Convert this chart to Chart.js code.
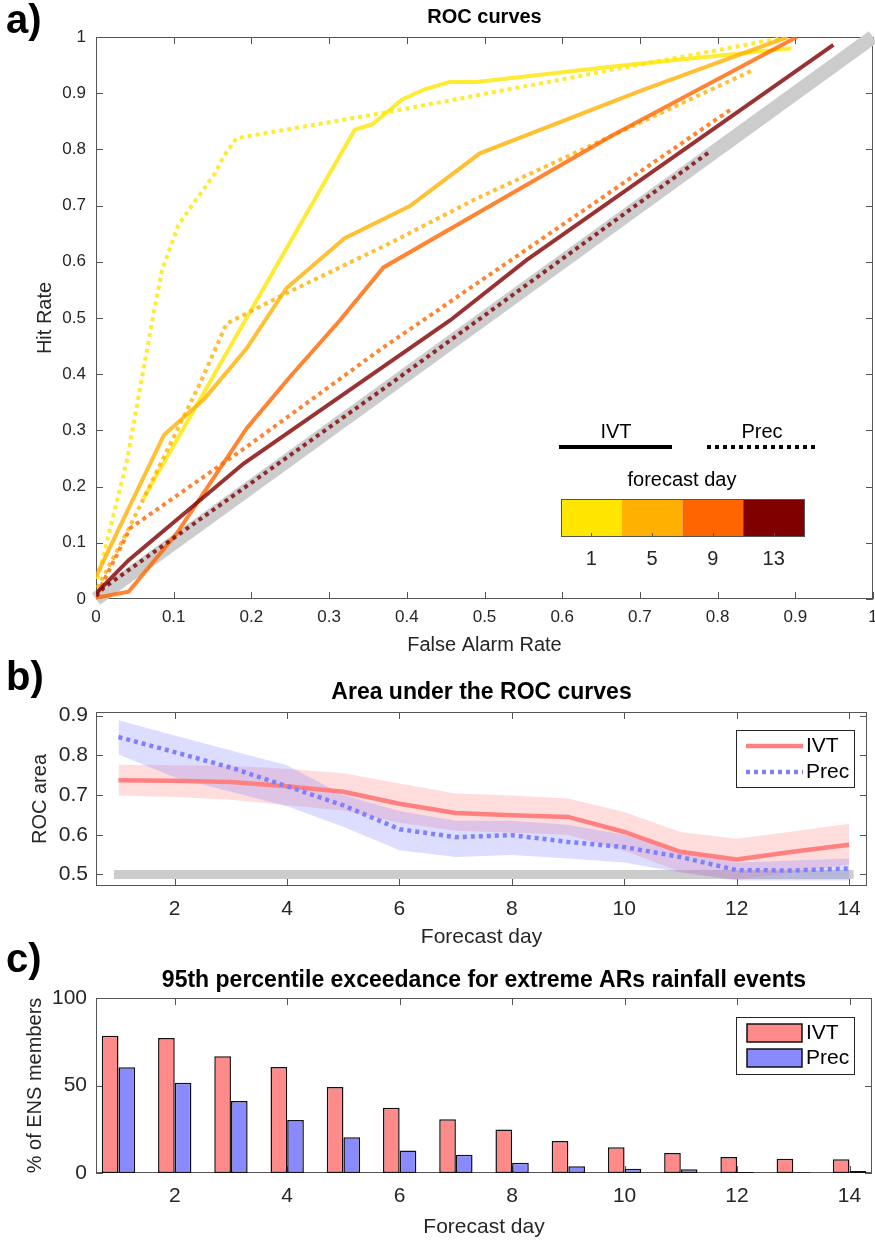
<!DOCTYPE html>
<html>
<head>
<meta charset="utf-8">
<script src="https://cdn.jsdelivr.net/npm/chart.js"></script>
<style>
  body { margin:0; background:#fff; width:875px; height:1241px; position:relative; overflow:hidden; }
  canvas { position:absolute; left:0; }
</style>
</head>
<body>
<canvas id="chartRoc" width="875" height="665" style="top:0px"></canvas>
<canvas id="chartAuc" width="875" height="300" style="top:650px"></canvas>
<canvas id="chartExceed" width="875" height="306" style="top:935px"></canvas>
<script>
// ---- panel a : ROC curves (false alarm rate -> hit rate), one IVT + one Prec curve per forecast day
var forecastDays = [1, 5, 9, 13];
var dayColors = ['255,230,0', '255,176,0', '255,102,0', '128,0,0'];

var ivtFar1 = [0.061, 0.2, 0.333, 0.356, 0.378, 0.393, 0.423, 0.455, 0.49, 0.674, 0.895];
var ivtHit1 = [0.179, 0.515, 0.835, 0.845, 0.87, 0.888, 0.907, 0.92, 0.92, 0.949, 0.98];
var precFar1 = [0.002, 0.04, 0.073, 0.085, 0.106, 0.13, 0.153, 0.164, 0.181, 0.37, 0.89];
var precHit1 = [0.035, 0.247, 0.5, 0.585, 0.665, 0.713, 0.757, 0.787, 0.82, 0.865, 1.0];

var ivtFar5 = [0, 0.044, 0.0875, 0.14, 0.194, 0.245, 0.32, 0.404, 0.494, 0.704, 0.89];
var ivtHit5 = [0.04, 0.167, 0.292, 0.357, 0.446, 0.553, 0.642, 0.699, 0.793, 0.906, 1.0];
var precFar5 = [0.002, 0.044, 0.09, 0.134, 0.168, 0.245, 0.378, 0.486, 0.844];
var precHit5 = [0.02, 0.13, 0.26, 0.384, 0.49, 0.544, 0.633, 0.71, 0.94];

var ivtFar9 = [0, 0.042, 0.104, 0.194, 0.25, 0.314, 0.37, 0.666, 0.902];
var ivtHit9 = [0.002, 0.013, 0.117, 0.304, 0.396, 0.496, 0.59, 0.826, 1.0];
var precFar9 = [0.002, 0.044, 0.194, 0.365, 0.816];
var precHit9 = [0.01, 0.126, 0.271, 0.443, 0.87];

var ivtFar13 = [0, 0.042, 0.19, 0.456, 0.554, 0.949];
var ivtHit13 = [0.01, 0.069, 0.241, 0.496, 0.603, 0.986];
var precFar13 = [0, 0.01, 0.374, 0.79];
var precHit13 = [0.005, 0.02, 0.378, 0.796];

var rocTicks = [0, 0.1, 0.2, 0.3, 0.4, 0.5, 0.6, 0.7, 0.8, 0.9, 1];

// ---- panel b : area under the ROC curves
var leadDays = [1, 2, 3, 4, 5, 6, 7, 8, 9, 10, 11, 12, 13, 14];
var ivtAuc   = [0.737, 0.736, 0.733, 0.722, 0.708, 0.678, 0.655, 0.649, 0.645, 0.607, 0.557, 0.538, 0.557, 0.575];
var ivtAucHi = [0.776, 0.775, 0.773, 0.766, 0.755, 0.729, 0.704, 0.699, 0.691, 0.657, 0.607, 0.59, 0.608, 0.628];
var ivtAucLo = [0.699, 0.695, 0.688, 0.674, 0.661, 0.63, 0.61, 0.605, 0.6, 0.56, 0.507, 0.487, 0.505, 0.525];
var precAuc   = [0.846, 0.808, 0.769, 0.722, 0.674, 0.614, 0.594, 0.599, 0.582, 0.569, 0.544, 0.511, 0.51, 0.515];
var precAucHi = [0.888, 0.85, 0.812, 0.775, 0.7, 0.66, 0.635, 0.635, 0.625, 0.6, 0.56, 0.53, 0.535, 0.54];
var precAucLo = [0.802, 0.745, 0.708, 0.672, 0.62, 0.561, 0.544, 0.549, 0.54, 0.53, 0.505, 0.485, 0.485, 0.485];
var aucTicks = [0.5, 0.6, 0.7, 0.8, 0.9];
var dayTicks = [2, 4, 6, 8, 10, 12, 14];

// ---- panel c : % of ENS members above 95th percentile
var ivtExceed  = [78.5, 77.1, 66.7, 60.6, 49.1, 37.3, 30.7, 24.8, 18.3, 14.7, 11.4, 9.1, 8.2, 7.8];
var precExceed = [60.4, 51.6, 41.1, 30.3, 20.4, 12.8, 10.5, 5.9, 3.8, 2.5, 2.1, 0.6, 0.4, 1.1];
var pctTicks = [0, 50, 100];

var FONT = "'Liberation Sans', Arial, Helvetica, sans-serif";
Chart.defaults.font.family = FONT;
Chart.defaults.color = '#262626';
Chart.defaults.animation = false;

function fixX(h){ return function(s){ s.height = h; s.paddingLeft = 0; s.paddingRight = 0; }; }
function fixY(w){ return function(s){ s.width = w; s.paddingTop = 0; s.paddingBottom = 0; }; }
function setTicks(vals){ return function(s){ s.ticks = vals.map(function(v){ return {value:v}; }); }; }
function pts(xs, ys){ return xs.map(function(x, i){ return {x:x, y:ys[i]}; }); }

// matlab style box: frame, inward ticks on 4 sides, bold title and panel letter
var matlabAxes = {
  id: 'matlabAxes',
  beforeDatasetsDraw: function(chart){
    var ctx = chart.ctx, a = chart.chartArea, sx = chart.scales.x, sy = chart.scales.y;
    ctx.save();
    ctx.strokeStyle = '#555'; ctx.lineWidth = 1;
    ctx.strokeRect(Math.round(a.left)+0.5, Math.round(a.top)+0.5, Math.round(a.right-a.left)-1, Math.round(a.bottom-a.top)-1);
    ctx.beginPath();
    sx.ticks.forEach(function(t){
      var p = Math.round(sx.getPixelForValue(t.value)) + 0.5;
      ctx.moveTo(p, a.bottom); ctx.lineTo(p, a.bottom - 7);
      ctx.moveTo(p, a.top); ctx.lineTo(p, a.top + 7);
    });
    sy.ticks.forEach(function(t){
      var p = Math.round(sy.getPixelForValue(t.value)) + 0.5;
      ctx.moveTo(a.left, p); ctx.lineTo(a.left + 7, p);
      ctx.moveTo(a.right, p); ctx.lineTo(a.right - 7, p);
    });
    ctx.stroke();
    ctx.restore();
  },
  afterDraw: function(chart, args, opts){
    var ctx = chart.ctx, a = chart.chartArea;
    ctx.save();
    ctx.fillStyle = '#000';
    ctx.textAlign = 'center'; ctx.textBaseline = 'middle';
    ctx.font = 'bold ' + opts.titleSize + 'px ' + FONT;
    ctx.fillText(opts.title, (a.left + a.right) / 2, opts.titleY);
    ctx.textAlign = 'left'; ctx.textBaseline = 'top';
    ctx.font = 'bold 40px ' + FONT;
    ctx.fillText(opts.letter, 6, opts.letterY);
    ctx.restore();
  }
};

// ---------------- panel a
var rocSets = [];
function addRoc(far, hit, k, dotted){
  rocSets.push({
    data: pts(far, hit), showLine: true, pointRadius: 0, borderWidth: 4,
    borderColor: 'rgba(' + dayColors[k] + ',0.8)',
    borderDash: dotted ? [4, 4] : [], borderCapStyle: 'butt', tension: 0,
    order: 10 - k
  });
}
addRoc(ivtFar1, ivtHit1, 0, false); addRoc(precFar1, precHit1, 0, true);
addRoc(ivtFar5, ivtHit5, 1, false); addRoc(precFar5, precHit5, 1, true);
addRoc(ivtFar9, ivtHit9, 2, false); addRoc(precFar9, precHit9, 2, true);
addRoc(ivtFar13, ivtHit13, 3, false); addRoc(precFar13, precHit13, 3, true);
rocSets.push({
  data: pts([0, 1], [0, 1]), showLine: true, pointRadius: 0, borderWidth: 14,
  borderColor: '#cccccc', borderCapStyle: 'butt', clip: false, order: 50
});

var rocLegend = {
  id: 'rocLegend',
  afterDraw: function(chart){
    var ctx = chart.ctx;
    ctx.save();
    ctx.fillStyle = '#000'; ctx.font = '20px ' + FONT;
    ctx.textAlign = 'center'; ctx.textBaseline = 'middle';
    ctx.fillText('IVT', 616, 432);
    ctx.fillText('Prec', 762, 432);
    ctx.fillText('forecast day', 682, 480);
    ctx.strokeStyle = '#000'; ctx.lineWidth = 4;
    ctx.beginPath(); ctx.moveTo(559, 447); ctx.lineTo(672, 447); ctx.stroke();
    ctx.setLineDash([4, 4]);
    ctx.beginPath(); ctx.moveTo(707, 447); ctx.lineTo(815, 447); ctx.stroke();
    ctx.setLineDash([]);
    var x0 = 561, w = (804 - 561) / forecastDays.length;
    forecastDays.forEach(function(d, i){
      ctx.fillStyle = 'rgb(' + dayColors[i] + ')';
      ctx.fillRect(x0 + i * w, 499, w, 38);
      ctx.fillStyle = '#262626';
      ctx.fillText(String(d), x0 + (i + 0.5) * w, 559);
    });
    ctx.strokeStyle = '#555'; ctx.lineWidth = 1;
    ctx.strokeRect(561.5, 499.5, 243, 37);
    ctx.beginPath();
    forecastDays.forEach(function(d, i){
      var cx = Math.round(x0 + (i + 0.5) * w) + 0.5;
      ctx.moveTo(cx, 537); ctx.lineTo(cx, 533);
    });
    ctx.stroke();
    ctx.restore();
  }
};

new Chart(document.getElementById('chartRoc'), {
  type: 'scatter',
  data: { datasets: rocSets },
  options: {
    responsive: false,
    layout: { padding: { left: 0, right: 2, top: 37, bottom: 0 } },
    plugins: {
      legend: { display: false }, tooltip: { enabled: false },
      matlabAxes: { title: 'ROC curves', titleSize: 20, titleY: 17, letter: 'a)', letterY: 2 }
    },
    scales: {
      x: {
        type: 'linear', min: 0, max: 1,
        afterBuildTicks: setTicks(rocTicks), afterFit: fixX(66),
        grid: { display: false, drawTicks: false }, border: { display: false },
        ticks: { padding: 8, font: { size: 17 }, maxRotation: 0, autoSkip: false,
          callback: function(v){ return String(Math.round(v * 10) / 10); } },
        title: { display: true, text: 'False Alarm Rate', font: { size: 20 }, padding: { top: 0, bottom: 8 } }
      },
      y: {
        type: 'linear', min: 0, max: 1,
        afterBuildTicks: setTicks(rocTicks), afterFit: fixY(96),
        grid: { display: false, drawTicks: false }, border: { display: false },
        ticks: { padding: 10, font: { size: 17 }, autoSkip: false,
          callback: function(v){ return String(Math.round(v * 10) / 10); } },
        title: { display: true, text: 'Hit Rate', font: { size: 20 }, padding: { top: 33, bottom: 0 } }
      }
    }
  },
  plugins: [matlabAxes, rocLegend]
});

// ---------------- panel b
var aucLegend = {
  id: 'aucLegend',
  afterDraw: function(chart){
    var ctx = chart.ctx;
    ctx.save();
    ctx.fillStyle = '#fff'; ctx.fillRect(736, 80, 118, 57);
    ctx.strokeStyle = '#262626'; ctx.lineWidth = 1; ctx.strokeRect(736.5, 80.5, 118, 57);
    ctx.lineWidth = 4.5;
    ctx.strokeStyle = '#ff8080';
    ctx.beginPath(); ctx.moveTo(746, 96); ctx.lineTo(803, 96); ctx.stroke();
    ctx.strokeStyle = '#8080ff'; ctx.setLineDash([4, 4]);
    ctx.beginPath(); ctx.moveTo(746, 122); ctx.lineTo(803, 122); ctx.stroke();
    ctx.setLineDash([]);
    ctx.fillStyle = '#000'; ctx.font = '21px ' + FONT;
    ctx.textAlign = 'left'; ctx.textBaseline = 'middle';
    ctx.fillText('IVT', 806, 96);
    ctx.fillText('Prec', 806, 122);
    ctx.restore();
  }
};

new Chart(document.getElementById('chartAuc'), {
  type: 'scatter',
  data: { datasets: [
    { data: pts(leadDays, precAuc), showLine: true, pointRadius: 0, borderWidth: 4.5,
      borderColor: '#8080ff', borderDash: [4, 4], borderCapStyle: 'butt', order: 0 },
    { data: pts(leadDays, ivtAuc), showLine: true, pointRadius: 0, borderWidth: 4.5,
      borderColor: '#ff8080', order: 1 },
    { data: pts(leadDays, precAucHi), showLine: true, pointRadius: 0, borderWidth: 0,
      borderColor: 'rgba(0,0,0,0)', order: 3 },
    { data: pts(leadDays, precAucLo), showLine: true, pointRadius: 0, borderWidth: 0,
      borderColor: 'rgba(0,0,0,0)', fill: '-1', backgroundColor: 'rgba(128,128,255,0.27)', order: 2 },
    { data: pts(leadDays, ivtAucHi), showLine: true, pointRadius: 0, borderWidth: 0,
      borderColor: 'rgba(0,0,0,0)', order: 5 },
    { data: pts(leadDays, ivtAucLo), showLine: true, pointRadius: 0, borderWidth: 0,
      borderColor: 'rgba(0,0,0,0)', fill: '-1', backgroundColor: 'rgba(255,128,128,0.27)', order: 4 },
    { data: pts([1, 14], [0.5, 0.5]), showLine: true, pointRadius: 0, borderWidth: 9,
      borderColor: '#cccccc', borderCapStyle: 'square', order: 9 }
  ] },
  options: {
    responsive: false,
    layout: { padding: { left: 0, right: 8, top: 62, bottom: 0 } },
    plugins: {
      legend: { display: false }, tooltip: { enabled: false },
      matlabAxes: { title: 'Area under the ROC curves', titleSize: 23, titleY: 43, letter: 'b)', letterY: 9 }
    },
    scales: {
      x: {
        type: 'linear', min: 0.6, max: 14.32,
        afterBuildTicks: setTicks(dayTicks), afterFit: fixX(64),
        grid: { display: false, drawTicks: false }, border: { display: false },
        ticks: { padding: 11, font: { size: 21 }, maxRotation: 0, autoSkip: false },
        title: { display: true, text: 'Forecast day', font: { size: 21 }, padding: { top: 0, bottom: 0 } }
      },
      y: {
        type: 'linear', min: 0.471, max: 0.909,
        afterBuildTicks: setTicks(aucTicks), afterFit: fixY(96),
        grid: { display: false, drawTicks: false }, border: { display: false },
        ticks: { padding: 8, font: { size: 21 }, autoSkip: false,
          callback: function(v){ return v.toFixed(1); } },
        title: { display: true, text: 'ROC area', font: { size: 20 }, padding: { top: 28, bottom: 0 } }
      }
    }
  },
  plugins: [matlabAxes, aucLegend]
});

// ---------------- panel c
var exceedLegend = {
  id: 'exceedLegend',
  afterDraw: function(chart){
    var ctx = chart.ctx;
    ctx.save();
    ctx.fillStyle = '#fff'; ctx.fillRect(736, 82, 118, 57);
    ctx.strokeStyle = '#262626'; ctx.lineWidth = 1; ctx.strokeRect(736.5, 82.5, 118, 57);
    ctx.lineWidth = 1.5; ctx.strokeStyle = '#111';
    ctx.fillStyle = '#ff8a8a'; ctx.fillRect(747, 89, 55, 18); ctx.strokeRect(747, 89, 55, 18);
    ctx.fillStyle = '#8a8aff'; ctx.fillRect(747, 114, 55, 18); ctx.strokeRect(747, 114, 55, 18);
    ctx.fillStyle = '#000'; ctx.font = '21px ' + FONT;
    ctx.textAlign = 'left'; ctx.textBaseline = 'middle';
    ctx.fillText('IVT', 806, 98);
    ctx.fillText('Prec', 806, 123);
    ctx.restore();
  }
};

new Chart(document.getElementById('chartExceed'), {
  type: 'bar',
  data: { datasets: [
    { label: 'IVT', data: pts(leadDays, ivtExceed), backgroundColor: '#ff8a8a',
      borderColor: '#111', borderWidth: 1.5, borderSkipped: false },
    { label: 'Prec', data: pts(leadDays, precExceed), backgroundColor: '#8a8aff',
      borderColor: '#111', borderWidth: 1.5, borderSkipped: false }
  ] },
  options: {
    responsive: false,
    categoryPercentage: 0.593, barPercentage: 1,
    layout: { padding: { left: 0, right: 3, top: 63, bottom: 0 } },
    plugins: {
      legend: { display: false }, tooltip: { enabled: false },
      matlabAxes: { title: '95th percentile exceedance for extreme ARs rainfall events', titleSize: 23, titleY: 46, letter: 'c)', letterY: 6 }
    },
    scales: {
      x: {
        type: 'linear', min: 0.6, max: 14.4, offset: false,
        afterBuildTicks: setTicks(dayTicks), afterFit: fixX(68),
        grid: { display: false, drawTicks: false, offset: false }, border: { display: false },
        ticks: { padding: 11, font: { size: 21 }, maxRotation: 0, autoSkip: false },
        title: { display: true, text: 'Forecast day', font: { size: 21 }, padding: { top: 0, bottom: 1 } }
      },
      y: {
        type: 'linear', min: 0, max: 100,
        afterBuildTicks: setTicks(pctTicks), afterFit: fixY(96),
        grid: { display: false, drawTicks: false }, border: { display: false },
        ticks: { padding: 9, font: { size: 21 }, autoSkip: false },
        title: { display: true, text: '% of ENS members', font: { size: 20 }, padding: { top: 23, bottom: 0 } }
      }
    }
  },
  plugins: [matlabAxes, exceedLegend]
});
</script>
</body>
</html>
